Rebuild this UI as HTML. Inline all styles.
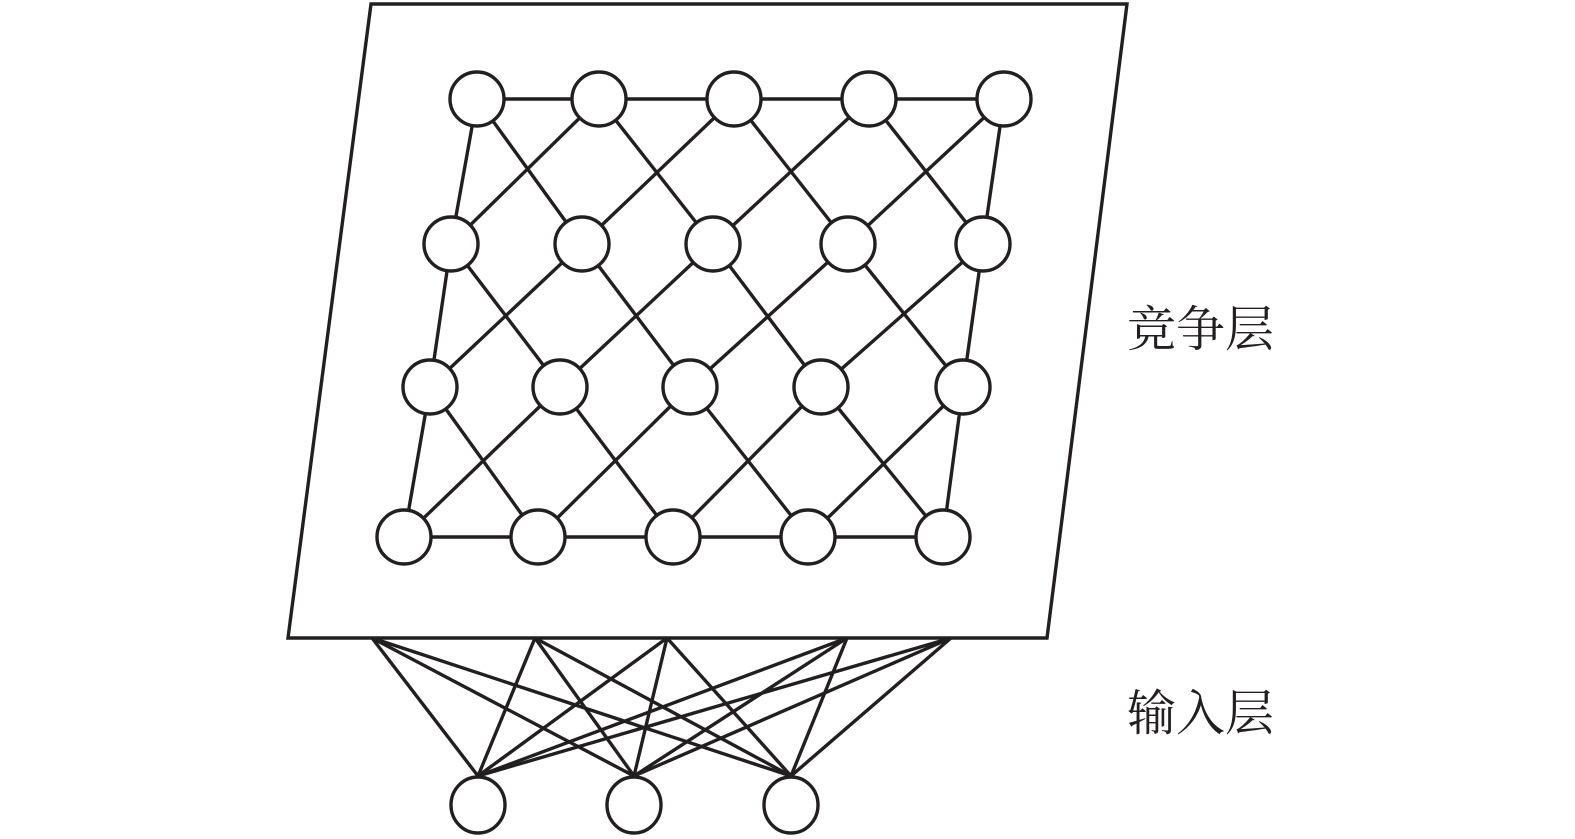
<!DOCTYPE html>
<html><head><meta charset="utf-8"><style>
html,body{margin:0;padding:0;background:#fff;}
svg{display:block}
text{font-family:"Liberation Serif","Noto Serif CJK SC",serif;font-size:49px;fill:#231f20}
</style></head><body>
<svg width="1575" height="839" viewBox="0 0 1575 839" xmlns="http://www.w3.org/2000/svg">
<g stroke="#231f20" stroke-width="3.4" fill="none">
<polygon points="371,4 1127,4 1047,638 288,638"/>
<line x1="372" y1="638" x2="478" y2="776"/><line x1="372" y1="638" x2="634" y2="776"/><line x1="372" y1="638" x2="791" y2="776"/>
<line x1="535" y1="638" x2="478" y2="776"/><line x1="535" y1="638" x2="634" y2="776"/><line x1="535" y1="638" x2="791" y2="776"/>
<line x1="667" y1="638" x2="478" y2="776"/><line x1="667" y1="638" x2="634" y2="776"/><line x1="667" y1="638" x2="791" y2="776"/>
<line x1="847" y1="638" x2="478" y2="776"/><line x1="847" y1="638" x2="634" y2="776"/><line x1="847" y1="638" x2="791" y2="776"/>
<line x1="951" y1="638" x2="478" y2="776"/><line x1="951" y1="638" x2="634" y2="776"/><line x1="951" y1="638" x2="791" y2="776"/>
<line x1="477" y1="99" x2="1004" y2="99"/>
<line x1="404" y1="537" x2="943" y2="537"/>
<polyline points="477,99 451,244 430,387 404,537"/>
<polyline points="1004,99 983,244 963,387 943,537"/>
<line x1="477" y1="99" x2="582" y2="244"/><line x1="599" y1="99" x2="451" y2="244"/>
<line x1="599" y1="99" x2="713" y2="244"/><line x1="734" y1="99" x2="582" y2="244"/>
<line x1="734" y1="99" x2="848" y2="244"/><line x1="869" y1="99" x2="713" y2="244"/>
<line x1="869" y1="99" x2="983" y2="244"/><line x1="1004" y1="99" x2="848" y2="244"/>
<line x1="451" y1="244" x2="560" y2="387"/><line x1="582" y1="244" x2="430" y2="387"/>
<line x1="582" y1="244" x2="690" y2="387"/><line x1="713" y1="244" x2="560" y2="387"/>
<line x1="713" y1="244" x2="821" y2="387"/><line x1="848" y1="244" x2="690" y2="387"/>
<line x1="848" y1="244" x2="963" y2="387"/><line x1="983" y1="244" x2="821" y2="387"/>
<line x1="430" y1="387" x2="538" y2="537"/><line x1="560" y1="387" x2="404" y2="537"/>
<line x1="560" y1="387" x2="673" y2="537"/><line x1="690" y1="387" x2="538" y2="537"/>
<line x1="690" y1="387" x2="808" y2="537"/><line x1="821" y1="387" x2="673" y2="537"/>
<line x1="821" y1="387" x2="943" y2="537"/><line x1="963" y1="387" x2="808" y2="537"/>
</g>
<g stroke="#231f20" stroke-width="3.4" fill="#fff">
<circle cx="477" cy="99" r="27"/><circle cx="599" cy="99" r="27"/><circle cx="734" cy="99" r="27"/><circle cx="869" cy="99" r="27"/><circle cx="1004" cy="99" r="27"/>
<circle cx="451" cy="244" r="27"/><circle cx="582" cy="244" r="27"/><circle cx="713" cy="244" r="27"/><circle cx="848" cy="244" r="27"/><circle cx="983" cy="244" r="27"/>
<circle cx="430" cy="387" r="27"/><circle cx="560" cy="387" r="27"/><circle cx="690" cy="387" r="27"/><circle cx="821" cy="387" r="27"/><circle cx="963" cy="387" r="27"/>
<circle cx="404" cy="537" r="27"/><circle cx="538" cy="537" r="27"/><circle cx="673" cy="537" r="27"/><circle cx="808" cy="537" r="27"/><circle cx="943" cy="537" r="27"/>
<ellipse cx="478" cy="805" rx="27" ry="28"/><ellipse cx="634" cy="805" rx="27" ry="28"/><ellipse cx="791" cy="805" rx="27" ry="28"/>
</g>
<text x="1127" y="346">竞争层</text>
<text x="1127" y="730">输入层</text>
</svg>
</body></html>
